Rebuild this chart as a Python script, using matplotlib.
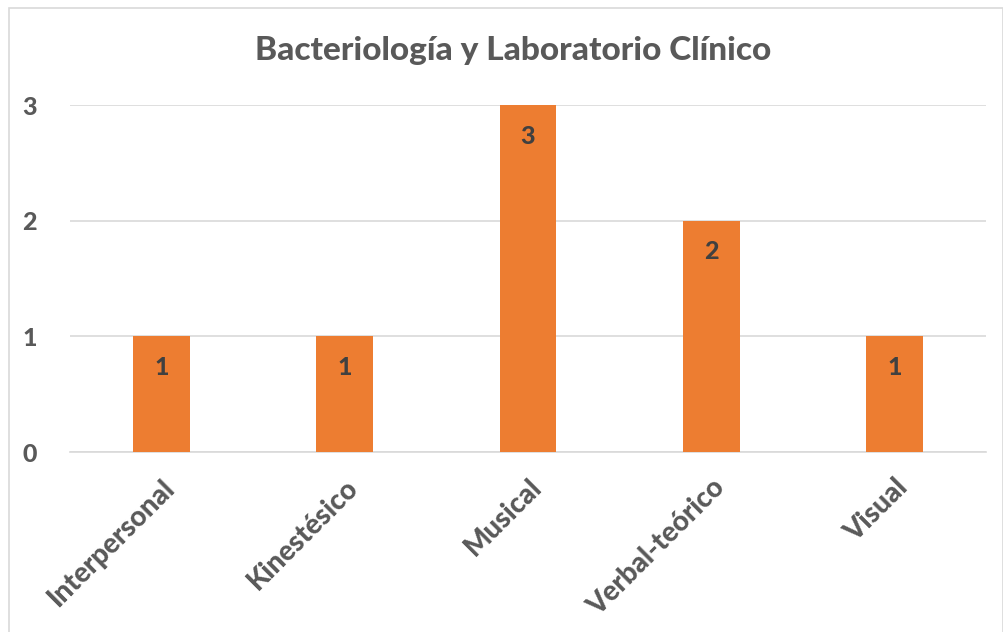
import matplotlib.pyplot as plt
from matplotlib.patches import Rectangle

categories = ["Interpersonal", "Kinestésico", "Musical", "Verbal-teórico", "Visual"]
values = [1, 1, 3, 2, 1]
yticks = [0, 1, 2, 3]

plt.rcParams['font.family'] = ['Lato', 'DejaVu Sans']
text_color = '#595959'
weight = 900

fig = plt.figure(figsize=(10.04, 6.32), dpi=100)
fig.patches.append(Rectangle((0.009, -0.01), 0.99, 0.997, transform=fig.transFigure,
                             fill=False, edgecolor='#D9D9D9', linewidth=1.2))

ax = fig.add_axes([0.0697, 0.2848, 0.9124, 0.549])
x = range(len(categories))
bars = ax.bar(x, values, width=0.31, color='#ED7D31', zorder=3)

ax.set_xlim(-0.5, len(categories) - 0.5)
ax.set_ylim(0, 3)
ax.set_yticks(yticks)
ax.set_yticklabels([str(t) for t in yticks], fontsize=18, fontweight=weight, color=text_color)
ax.yaxis.grid(True, color='#D9D9D9', linewidth=1.2, zorder=0)
ax.tick_params(axis='both', length=0)
ax.tick_params(axis='y', pad=24)
for side in ['top', 'right', 'left']:
    ax.spines[side].set_visible(False)
ax.spines['bottom'].set_color('#D9D9D9')
ax.spines['bottom'].set_linewidth(1.2)

ax.set_xticks(list(x))
ax.set_xticklabels(categories, rotation=45, ha='right', va='top', rotation_mode='anchor',
                   fontsize=20, fontweight=weight, color=text_color)
ax.tick_params(axis='x', pad=16)

for b, v in zip(bars, values):
    ax.text(b.get_x() + b.get_width() / 2, v - 0.27, str(v), ha='center', va='center',
            fontsize=18, fontweight=weight, color='#404040', zorder=4)

fig.text(0.511, 0.92, "Bacteriología y Laboratorio Clínico", ha='center', va='center',
         fontsize=24, fontweight=weight, color=text_color)

fig.savefig('out.png', dpi=100)
